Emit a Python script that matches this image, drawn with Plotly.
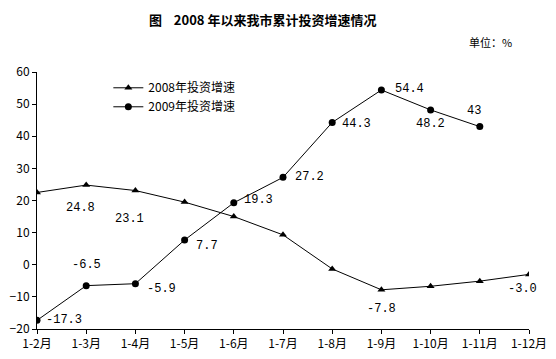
import plotly.graph_objects as go

categories = ["1-2月", "1-3月", "1-4月", "1-5月", "1-6月", "1-7月", "1-8月", "1-9月", "1-10月", "1-11月", "1-12月"]
growth_2008 = [22.5, 24.8, 23.1, 19.5, 15.0, 9.3, -1.3, -7.8, -6.7, -5.1, -3.0]
growth_2009 = [-17.3, -6.5, -5.9, 7.7, 19.3, 27.2, 44.3, 54.4, 48.2, 43.0, None]
labels_2008 = {1: "24.8", 2: "23.1", 7: "-7.8", 10: "-3.0"}
labels_2009 = {0: "-17.3", 1: "-6.5", 2: "-5.9", 3: "7.7", 4: "19.3", 5: "27.2",
               6: "44.3", 7: "54.4", 8: "48.2", 9: "43"}
y_ticks = [-20, -10, 0, 10, 20, 30, 40, 50, 60]

CJK = "Noto Sans CJK SC"
LBL = "Liberation Mono"

xs = list(range(len(categories)))
fig = go.Figure()
fig.add_trace(go.Scatter(x=xs, y=growth_2008, mode="lines+markers", name="2008年投资增速",
                         line=dict(color="black", width=1),
                         marker=dict(symbol="triangle-up", size=7, color="black")))
fig.add_trace(go.Scatter(x=xs, y=growth_2009, mode="lines+markers", name="2009年投资增速",
                         line=dict(color="black", width=1),
                         marker=dict(symbol="circle", size=7, color="black")))

# label offsets (pixels): (xanchor, xshift, yshift)
off08 = {1: ("center", -6, -23), 2: ("center", -6, -28), 7: ("center", 0, -19), 10: ("center", -7, -15)}
off09 = {0: ("left", 7, 0), 1: ("center", 0, 21), 2: ("left", 10, -5), 3: ("left", 9, -6),
         4: ("left", 8, 3), 5: ("left", 10, 0), 6: ("left", 8, -2), 7: ("left", 12, 1),
         8: ("center", 0, -14), 9: ("center", -6, 16)}

annotations = []
for i, t in labels_2008.items():
    xa, dx, dy = off08[i]
    annotations.append(dict(x=xs[i], y=growth_2008[i], text=t, showarrow=False, xanchor=xa,
                            xshift=dx, yshift=dy, font=dict(family=LBL, size=12, color="black")))
for i, t in labels_2009.items():
    xa, dx, dy = off09[i]
    annotations.append(dict(x=xs[i], y=growth_2009[i], text=t, showarrow=False, xanchor=xa,
                            xshift=dx, yshift=dy, font=dict(family=LBL, size=12, color="black")))

annotations.append(dict(x=262, y=19, xref="paper", yref="paper", text="<b>图    2008 年以来我市累计投资增速情况</b>",
                        showarrow=False, xanchor="center", yanchor="middle",
                        font=dict(family=CJK, size=13, color="black")))
annotations.append(dict(x=490, y=42, xref="paper", yref="paper", text="单位：%",
                        showarrow=False, xanchor="center", yanchor="middle",
                        font=dict(family=CJK, size=11, color="black")))

W, H = 556, 359
ml, mr, mt, mb = 37, 27, 72, 30
pw, ph = W - ml - mr, H - mt - mb
for a in annotations[-2:]:
    a["x"] = (a["x"] - ml) / pw
    a["y"] = (H - mb - a["y"]) / ph

fig.update_layout(
    width=W, height=H,
    margin=dict(l=ml, r=mr, t=mt, b=mb, autoexpand=False),
    paper_bgcolor="white", plot_bgcolor="white",
    font=dict(family=CJK, size=12, color="black"),
    showlegend=True,
    legend=dict(x=0.145, y=0.995, xanchor="left", yanchor="top", bgcolor="rgba(0,0,0,0)",
                font=dict(family=CJK, size=12), itemwidth=30, tracegroupgap=0),
    annotations=annotations,
    xaxis=dict(range=[0, len(categories) - 1], tickmode="array", tickvals=xs, ticktext=categories,
               showgrid=False, zeroline=False, showline=True, linecolor="black", linewidth=1,
               ticks="outside", ticklen=4, tickcolor="black", automargin=False,
               tickfont=dict(family=CJK, size=12)),
    yaxis=dict(range=[-20, 60], tickmode="array", tickvals=y_ticks,
               showgrid=False, zeroline=False, showline=True, linecolor="black", linewidth=1,
               ticks="outside", ticklen=4, tickcolor="black", automargin=False,
               tickfont=dict(family=CJK, size=12)),
)
fig.write_html("out.html", config={"displayModeBar": False},
               post_script="document.body.style.margin='0';")
